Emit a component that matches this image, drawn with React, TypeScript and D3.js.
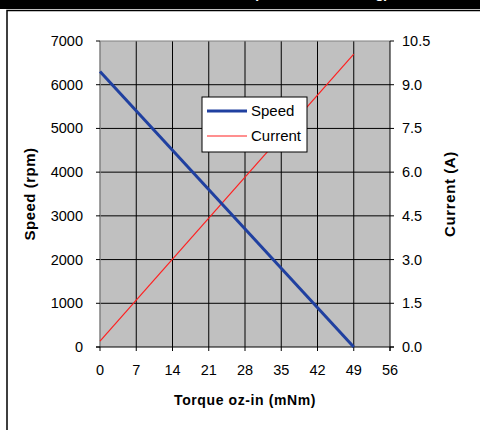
import React from "react";
import * as d3 from "d3";

const torque = [0, 49];
const speed = [6300, 0];
const current = [0.2, 10.05];
const xTicks = [0, 7, 14, 21, 28, 35, 42, 49, 56];
const yLeftTicks = [0, 1000, 2000, 3000, 4000, 5000, 6000, 7000];
const yRightTicks = [0, 1.5, 3.0, 4.5, 6.0, 7.5, 9.0, 10.5];
const seriesNames = ["Speed", "Current"];
const title = "Motor Performance (Continuous Rating)";

export default function App() {
  const W = 480, H = 430;
  const L = 100, R = 390, T = 41, B = 347;
  const x = d3.scaleLinear().domain([0, 56]).range([L, R]);
  const yL = d3.scaleLinear().domain([0, 7000]).range([B, T]);
  const yR = d3.scaleLinear().domain([0, 10.5]).range([B, T]);
  const font = "'Liberation Sans', Arial, sans-serif";
  const speedPath = d3.line<number>().x((_, i) => x(torque[i])).y((d) => yL(d))(speed) || "";
  const currentPath = d3.line<number>().x((_, i) => x(torque[i])).y((d) => yR(d))(current) || "";
  const fs = 14.5;
  return (
    <svg width={W} height={H} style={{ position: "absolute", left: 0, top: 0, background: "#fff" }} fontFamily={font}>
      <rect x={0} y={0} width={W} height={9} fill="#000" />
      <text x={255} y={-2} textAnchor="middle" fill="#fff" fontWeight="bold" fontSize={14}>{title}</text>
      <rect x={7} y={10.5} width={W} height={H} fill="none" stroke="#000" strokeWidth={1.5} />
      <rect x={L} y={T} width={R - L} height={B - T} fill="#c0c0c0" />
      {yLeftTicks.slice(1, -1).map((t) => (
        <line key={"gh" + t} x1={L} x2={R} y1={yL(t)} y2={yL(t)} stroke="#000" strokeWidth={1} />
      ))}
      {xTicks.slice(1, -1).map((t) => (
        <line key={"gv" + t} x1={x(t)} x2={x(t)} y1={T} y2={B} stroke="#000" strokeWidth={1} />
      ))}
      <line x1={L} x2={R} y1={T} y2={T} stroke="#808080" strokeWidth={1} />
      <line x1={L} x2={L} y1={T} y2={B} stroke="#808080" strokeWidth={1.5} />
      <line x1={R} x2={R} y1={T} y2={B + 4} stroke="#000" strokeWidth={1} />
      <line x1={L - 4} x2={R + 4} y1={B} y2={B} stroke="#000" strokeWidth={1} />
      {yLeftTicks.map((t) => (
        <g key={"yl" + t}>
          <line x1={L - 4} x2={L} y1={yL(t)} y2={yL(t)} stroke="#000" />
          <text x={83} y={yL(t) + 5} textAnchor="end" fontSize={fs} fill="#000">{t}</text>
        </g>
      ))}
      {yRightTicks.map((t) => (
        <g key={"yr" + t}>
          <line x1={R} x2={R + 4} y1={yR(t)} y2={yR(t)} stroke="#000" />
          <text x={402} y={yR(t) + 5} textAnchor="start" fontSize={fs} fill="#000">{t.toFixed(1)}</text>
        </g>
      ))}
      {xTicks.map((t) => (
        <g key={"x" + t}>
          <line x1={x(t)} x2={x(t)} y1={B} y2={B + 4} stroke="#000" />
          <text x={x(t)} y={375} textAnchor="middle" fontSize={fs} fill="#000">{t}</text>
        </g>
      ))}
      <path d={currentPath} fill="none" stroke="#ff2020" strokeWidth={1.2} />
      <path d={speedPath} fill="none" stroke="#2040a0" strokeWidth={3} />
      <text x={245} y={405} textAnchor="middle" fontSize={14} fontWeight="bold" letterSpacing={0.6}>Torque oz-in (mNm)</text>
      <text transform={`translate(35,${(T + B) / 2}) rotate(-90)`} textAnchor="middle" fontSize={15} fontWeight="bold" letterSpacing={0.5}>Speed (rpm)</text>
      <text transform={`translate(455,${(T + B) / 2}) rotate(-90)`} textAnchor="middle" fontSize={15} fontWeight="bold" letterSpacing={0.6}>Current (A)</text>
      <rect x={202} y={97} width={105} height={55} fill="#fff" stroke="#000" strokeWidth={1} />
      <line x1={207} x2={247} y1={111} y2={111} stroke="#2040a0" strokeWidth={3} />
      <text x={251} y={116} fontSize={15} fill="#000">{seriesNames[0]}</text>
      <line x1={207} x2={247} y1={136} y2={136} stroke="#ff2020" strokeWidth={1.2} />
      <text x={251} y={141} fontSize={15} fill="#000">{seriesNames[1]}</text>
    </svg>
  );
}
